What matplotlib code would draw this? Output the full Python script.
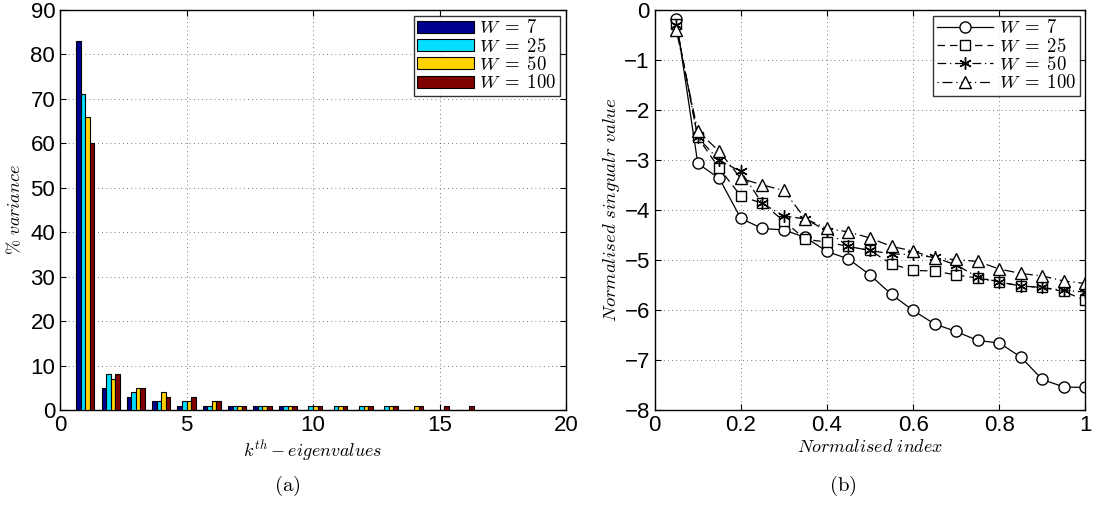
import numpy as np
import matplotlib
matplotlib.use("Agg")
import matplotlib.pyplot as plt

plt.rcParams["font.family"] = ["Liberation Sans", "DejaVu Sans"]
plt.rcParams["mathtext.fontset"] = "cm"

# ---- data: (a) % variance per eigenvalue -----------------------------
k_vals = np.arange(1, 17)
var_w7 = [83, 5, 3, 2, 1, 1, 1, 1, 1, 0, 0, 0, 0, 0, 0, 0]
var_w25 = [71, 8, 4, 2, 2, 1, 1, 1, 1, 1, 1, 1, 1, 0, 0, 0]
var_w50 = [66, 7, 5, 4, 2, 2, 1, 1, 1, 1, 1, 1, 1, 1, 0, 0]
var_w100 = [60, 8, 5, 3, 3, 2, 1, 1, 1, 1, 1, 1, 1, 1, 1, 1]

# ---- data: (b) normalised singular values ----------------------------
norm_idx = [0.05, 0.10, 0.15, 0.20, 0.25, 0.30, 0.35, 0.40, 0.45, 0.50,
            0.55, 0.60, 0.65, 0.70, 0.75, 0.80, 0.85, 0.90, 0.95, 1.00]
sv_w7 = [-0.18, -3.07, -3.37, -4.17, -4.37, -4.40, -4.55, -4.83, -4.98, -5.30,
         -5.69, -6.01, -6.28, -6.43, -6.61, -6.66, -6.94, -7.39, -7.54, -7.55]
sv_w25 = [-0.28, -2.55, -3.17, -3.72, -3.87, -4.22, -4.59, -4.64, -4.73, -4.81,
          -5.08, -5.21, -5.22, -5.30, -5.36, -5.44, -5.52, -5.55, -5.63, -5.81]
sv_w50 = [-0.30, -2.55, -3.01, -3.23, -3.87, -4.12, -4.18, -4.42, -4.73, -4.81,
          -4.88, -4.89, -4.95, -5.10, -5.34, -5.44, -5.52, -5.55, -5.61, -5.64]
sv_w100 = [-0.40, -2.42, -2.83, -3.37, -3.50, -3.61, -4.18, -4.37, -4.44, -4.56,
           -4.73, -4.82, -4.97, -4.99, -5.03, -5.18, -5.27, -5.32, -5.42, -5.47]

labels = [r"$W\;=\;7$", r"$W\;=\;25$", r"$W\;=\;50$", r"$W\;=\;100$"]
bar_colors = ["#00008F", "#00DFFF", "#FFD200", "#800000"]

fig = plt.figure(figsize=(10.93, 5.09), dpi=100)
ax1 = fig.add_axes([0.0549, 0.1945, 0.463, 0.786])
ax2 = fig.add_axes([0.599, 0.1945, 0.394, 0.786])

# ---- (a) grouped bars ------------------------------------------------
bw = 0.18
series = [var_w7, var_w25, var_w50, var_w100]
for i, (vals, c, lab) in enumerate(zip(series, bar_colors, labels)):
    ax1.bar(k_vals + (i - 1.5) * bw, vals, width=bw, color=c,
            edgecolor="black", linewidth=0.8, label=lab, zorder=3)

ax1.set_xlim(0, 20)
ax1.set_ylim(0, 90)
ax1.set_xticks([0, 5, 10, 15, 20])
ax1.set_yticks(np.arange(0, 91, 10))
ax1.set_xlabel(r"$k^{th} - eigenvalues$", fontsize=13, labelpad=2)
ax1.set_ylabel(r"$\%\ variance$", fontsize=13, labelpad=4)
leg1 = ax1.legend(loc="upper right", fontsize=13.5, frameon=True, fancybox=False,
                  edgecolor="black", handlelength=3.0, handleheight=0.6,
                  borderpad=0.2, labelspacing=0.02, handletextpad=0.3,
                  borderaxespad=0.3)
leg1.get_frame().set_linewidth(1.0)

# ---- (b) singular value curves ---------------------------------------
ax2.plot(norm_idx, sv_w7, color="black", lw=0.9, ls="-", marker="o",
         ms=8, mfc="white", mec="black", label=labels[0])
ax2.plot(norm_idx, sv_w25, color="black", lw=0.9, ls=(0, (6, 4)), marker="s",
         ms=7, mfc="white", mec="black", label=labels[1])
ax2.plot(norm_idx, sv_w50, color="black", lw=0.9, ls=(0, (7, 3, 1, 3)),
         marker=(6, 2, 0), ms=9, mew=1.0, mec="black", label=labels[2])
ax2.plot(norm_idx, sv_w100, color="black", lw=0.9, ls=(0, (1, 3, 8, 3)), marker="^",
         ms=9, mfc="white", mec="black", label=labels[3])

ax2.set_xlim(0, 1)
ax2.set_ylim(-8, 0)
ax2.set_xticks([0, 0.2, 0.4, 0.6, 0.8, 1])
ax2.set_xticklabels(["0", "0.2", "0.4", "0.6", "0.8", "1"])
ax2.set_yticks(np.arange(-8, 1, 1))
ax2.set_xlabel(r"$Normalised\ index$", fontsize=13, labelpad=2)
ax2.set_ylabel(r"$Normalised\ singualr\ value$", fontsize=13.5, labelpad=2)
leg2 = ax2.legend(loc="upper right", fontsize=13.5, frameon=True, fancybox=False,
                  edgecolor="black", handlelength=3.0, borderpad=0.2,
                  labelspacing=0.02, handletextpad=0.3, borderaxespad=0.3)
leg2.get_frame().set_linewidth(1.0)

for ax in (ax1, ax2):
    ax.grid(True, ls=(0, (1, 4)), color="black", lw=0.6, alpha=0.7)
    ax.set_axisbelow(True)
    ax.tick_params(direction="in", top=True, right=True, labelsize=16,
                   length=4, width=0.8)
    for sp in ax.spines.values():
        sp.set_linewidth(1.0)

fig.text(0.263, 0.035, r"$\mathrm{(a)}$", fontsize=15, ha="center")
fig.text(0.771, 0.035, r"$\mathrm{(b)}$", fontsize=15, ha="center")

fig.savefig("out.png", dpi=100)
